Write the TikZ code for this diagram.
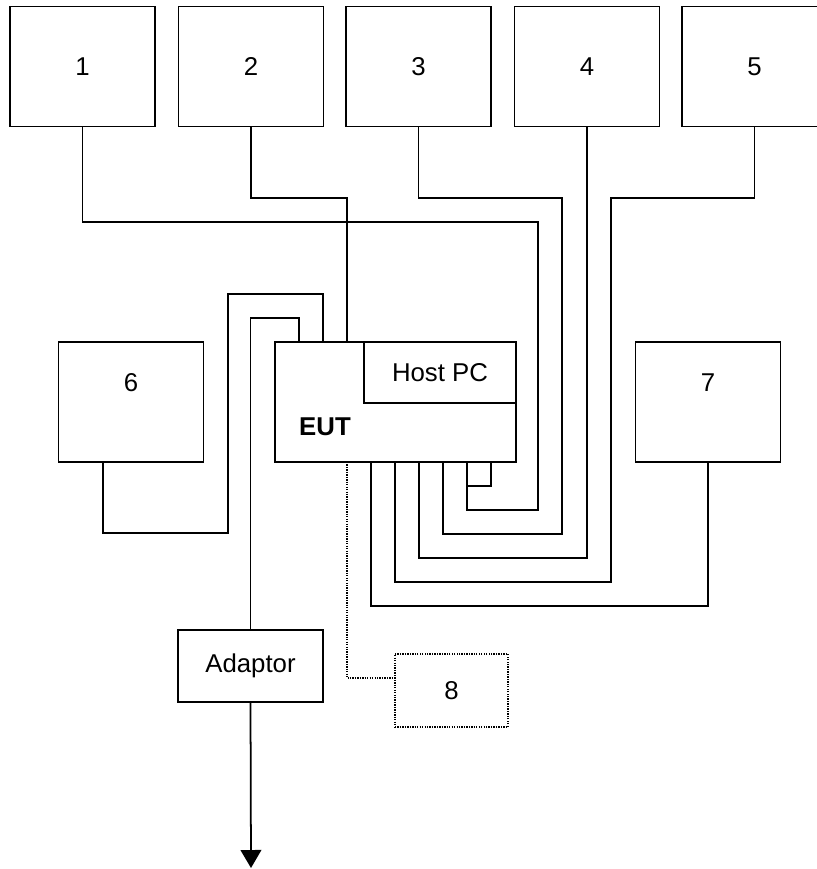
\documentclass[tikz,border=0pt]{standalone}
\usepackage{fontspec}
\setmainfont{Liberation Sans}
\usetikzlibrary{arrows.meta}

\begin{document}
\begin{tikzpicture}[x=0.03cm, y=-0.03cm, line width=1.5pt,
    font=\fontsize{22}{26}\selectfont,
    unit/.style={draw, rectangle, minimum width=145*0.03cm, minimum height=120*0.03cm, inner sep=0pt},
    aux/.style={draw, densely dotted, line width=1.1pt}]
    \useasboundingbox (0,0) rectangle (817,869);

    % Define the points on the EUT where the cables end
    \coordinate (E1) at (467,462);
    \coordinate (E0) at (491,462);
    \coordinate (E2) at (347,342);
    \coordinate (E3) at (443,462);
    \coordinate (E4) at (419,462);
    \coordinate (E5) at (395,462);
    \coordinate (E6) at (323,342);
    \coordinate (E7) at (371,462);
    \coordinate (EA) at (299,342);
    \coordinate (E8) at (347,462);
    \coordinate (S6) at (103,462);
    \coordinate (ground) at (251,868);

    % Draw the peripheral boxes
    \node (n1) [unit] at (82.5,66.5) {1};
    \node (n2) [unit] at (251,66.5) {2};
    \node (n3) [unit] at (418.5,66.5) {3};
    \node (n4) [unit] at (587,66.5) {4};
    \node (n5) [unit] at (754.5,66.5) {5};
    \node (n6) [unit] at (131,402) {};
    \node (n7) [unit] at (708,402) {};
    \node (t6) at (131,383) {6};
    \node (t7) at (708,383) {7};

    % Draw the EUT with the host PC inside
    \node (eut) [draw, minimum width=241*0.03cm, minimum height=120*0.03cm] at (395.5,402) {};
    \node (host) [draw, minimum width=152*0.03cm, minimum height=61*0.03cm] at (440,372.5) {Host PC};
    \node (teut) at (325,427) {\textbf{EUT}};

    % Draw the adaptor and box 8
    \node (ad) [draw, minimum width=145*0.03cm, minimum height=72*0.03cm] at (250.5,666) {Adaptor};
    \node (n8) [draw, densely dotted, line width=1.1pt, minimum width=113*0.03cm, minimum height=73*0.03cm] at (451.5,690.5) {8};

    % Draw the cables
    \draw (n1.south) |- (538,222) |- (467,510) -- (E1);
    \draw (E1) |- (491,486) -- (E0);
    \draw (n2.south) |- (347,198) -- (E2);
    \draw (n3.south) |- (562,198) |- (443,534) -- (E3);
    \draw (n4.south) |- (419,558) -- (E4);
    \draw (n5.south) |- (611,198) |- (395,582) -- (E5);
    \draw (n7.south) |- (371,606) -- (E7);
    \draw (S6) |- (228,533) |- (323,294) -- (E6);
    \draw (ad.north) |- (299,318) -- (EA);
    \draw[aux] (E8) |- (395,678);
    \draw[-{Triangle[length=0.54cm, width=0.62cm]}] (ad.south) -- (ground);

\end{tikzpicture}
\end{document}
